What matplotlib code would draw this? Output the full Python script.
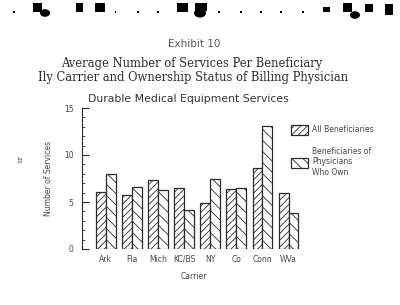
import numpy as np
import matplotlib
matplotlib.use('Agg')
from matplotlib import pyplot as plt
from matplotlib.ticker import MultipleLocator
from matplotlib.patches import Rectangle, Circle

carriers = ['Ark', 'Fla', 'Mich', 'KC/BS', 'NY', 'Co', 'Conn', 'WVa']
all_benef = [6.1, 5.7, 7.3, 6.5, 4.9, 6.4, 8.6, 6.0]
own_benef = [8.0, 6.6, 6.3, 4.1, 7.5, 6.5, 13.1, 3.8]

ink = '#2a2a2a'
txt = '#444444'
plt.rcParams['hatch.linewidth'] = 0.6
plt.rcParams['hatch.color'] = ink

fig = plt.figure(figsize=(4, 3.05), dpi=100)
fig.patch.set_facecolor('white')
W, H = 400, 305
ax = fig.add_axes([82/W, 1-249/H, (305-82)/W, 141/H])

x = np.arange(len(carriers))
bw = 0.38
b1 = ax.bar(x - bw/2, all_benef, bw, facecolor='white', edgecolor=ink,
            linewidth=0.9, hatch='/////')
b2 = ax.bar(x + bw/2, own_benef, bw, facecolor='white', edgecolor=ink,
            linewidth=0.9, hatch='\\\\\\')

ax.set_xlim(-0.91, 7.63)
ax.set_ylim(0, 15)
ax.yaxis.set_major_locator(MultipleLocator(5))
ax.yaxis.set_minor_locator(MultipleLocator(1))
ax.tick_params(axis='y', which='major', direction='in', length=5, width=0.8,
               labelsize=5.5, colors=ink, labelcolor=txt, pad=6)
ax.tick_params(axis='y', which='minor', direction='in', length=2.5, width=0.6, colors=ink)
ax.tick_params(axis='x', length=0, labelsize=5.5, labelcolor=txt, pad=4)
ax.set_xticks(x)
ax.set_xticklabels(carriers)
for s in ['top', 'right', 'bottom']:
    ax.spines[s].set_visible(False)
ax.spines['left'].set_color(ink)
ax.spines['left'].set_linewidth(0.8)
ax.set_ylabel('Number of Services', fontsize=5.5, color=txt, labelpad=8)
ax.set_xlabel('Carrier', fontsize=5.5, color=txt, labelpad=6)

fig.legend([b1, b2], ['All Beneficiaries', 'Beneficiaries of\nPhysicians\nWho Own'],
           loc='upper left', bbox_to_anchor=(284/W, 1-118/H), frameon=False,
           fontsize=5.5, labelcolor=txt, handlelength=2.2, handleheight=1.6,
           handletextpad=0.6, labelspacing=1.6)

fig.text(0.485, 1-44/H, 'Exhibit 10', ha='center', va='center', fontsize=7.5, color='#555555')
fig.text(0.478, 1-63.5/H, 'Average Number of Services Per Beneficiary', ha='center', va='center',
         fontsize=8.3, family='DejaVu Serif', color=ink)
fig.text(0.483, 1-77/H, 'Ily Carrier and Ownership Status of Billing Physician', ha='center',
         va='center', fontsize=8.3, family='DejaVu Serif', color=ink)
fig.text(188/W, 1-99/H, 'Durable Medical Equipment Services', ha='center', va='center',
         fontsize=7.8, color='#333333')
fig.text(18/W, 1-160/H, '21', ha='center', va='center', fontsize=4.5, rotation=-90, color=ink)

# scan artifacts along the top edge (punch holes / binding marks)
blobs = [(33, 3, 9, 9), (76, 3, 7, 9), (95, 3, 10, 9), (177, 3, 11, 9), (195, 3, 12, 8),
         (323, 7, 7, 5), (343, 3, 9, 9), (365, 4, 8, 8), (385, 4, 8, 11)]
for bx, by, bwid, bh in blobs:
    fig.patches.append(Rectangle((bx/W, 1-(by+bh)/H), bwid/W, bh/H, transform=fig.transFigure,
                                 facecolor='black', edgecolor='none'))
for cx, cy, r in [(45, 13, 5), (200, 13, 6), (355, 15, 5)]:
    fig.patches.append(Circle((cx/W, 1-cy/H), r/W, transform=fig.transFigure,
                              facecolor='black', edgecolor='none'))
for dx in [13, 115, 137, 157, 218, 240, 260, 280, 302]:
    fig.patches.append(Rectangle((dx/W, 1-13/H), 1.5/W, 1.5/H, transform=fig.transFigure,
                                 facecolor='black', edgecolor='none'))

fig.savefig('out.png', dpi=100, facecolor='white')
